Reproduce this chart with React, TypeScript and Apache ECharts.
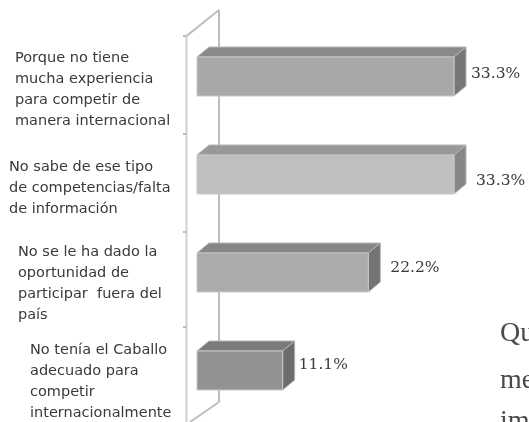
import React, { useEffect, useRef } from "react";
import * as echarts from "echarts";

const categories = [
  "Porque no tiene\nmucha experiencia\npara competir de\nmanera internacional",
  "No sabe de ese tipo\nde competencias/falta\nde información",
  "No se le ha dado la\noportunidad de\nparticipar  fuera del\npaís",
  "No tenía el Caballo\nadecuado para\ncompetir\ninternacionalmente",
];
const values = [33.3, 33.3, 22.2, 11.1];
const valueLabels = ["33.3%", "33.3%", "22.2%", "11.1%"];
const paragraphLines = ["Qu", "me", "im"];

const faceColors = ["#a8a8a8", "#bfbfbf", "#ababab", "#929292"];
const topColors = ["#8a8a8a", "#989898", "#868686", "#7a7a7a"];
const sideColors = ["#777777", "#868686", "#747474", "#6c6c6c"];
const labelDx = [17, 22, 22, 16];
const labelDy = [-3.5, 5.5, -6, -7];
const catX = [15, 9, 18, 30];
const catDy = [12, 12, 9.5, 9.5];

const DEPTH_X = 12;
const DEPTH_Y = 10;
const BAR_H = 39;
const WALL = "#bdbdbd";

export default function App() {
  const ref = useRef<HTMLDivElement>(null);
  useEffect(() => {
    const chart = echarts.init(ref.current!, undefined, { renderer: "svg" });
    const wallLine = (pts: number[][], stroke = WALL) => ({
      type: "polyline",
      z: 0,
      shape: { points: pts },
      style: { stroke, lineWidth: 2, fill: "none" },
    });
    chart.setOption({
      animation: false,
      backgroundColor: "#ffffff",
      grid: {
        left: 197,
        top: 27.5,
        width: 257,
        height: 392,
        containLabel: false,
        outerBoundsMode: "none",
      },
      xAxis: { type: "value", min: 0, max: 33.3, show: false },
      yAxis: {
        type: "category",
        inverse: true,
        data: categories,
        axisLine: { show: false },
        axisTick: { show: false },
        axisLabel: { show: false },
      },
      graphic: [
        wallLine([[186.5, 36], [186.5, 422]], "#cfcfcf"),
        wallLine([[219, 10], [219, 402]]),
        wallLine([[186.5, 36], [219, 10]]),
        wallLine([[219, 402], [190, 422]]),
        ...[36, 134, 232, 327].map((y) => wallLine([[183, y], [186.5, y]])),
        ...paragraphLines.map((t, i) => ({
          type: "text",
          z: 0,
          x: 500,
          y: [345, 392, 433][i],
          style: {
            text: t,
            fill: "#4a4a4a",
            font: "28px 'Liberation Serif', serif",
            verticalAlign: "bottom",
          },
        })),
      ],
      series: [
        {
          type: "custom",
          z: 2,
          clip: false,
          data: values.map((v, i) => [v, i]),
          encode: { x: 0, y: 1 },
          renderItem: (params: any, api: any) => {
            const i = params.dataIndex;
            const end = api.coord([api.value(0), api.value(1)]);
            const start = api.coord([0, api.value(1)]);
            const y0 = end[1] - BAR_H / 2;
            const y1 = end[1] + BAR_H / 2;
            return {
              type: "group",
              children: [
                {
                  type: "polygon",
                  shape: {
                    points: [
                      [start[0], y0],
                      [start[0] + DEPTH_X, y0 - DEPTH_Y],
                      [end[0] + DEPTH_X, y0 - DEPTH_Y],
                      [end[0], y0],
                    ],
                  },
                  style: { fill: topColors[i], stroke: "#b5b5b5", lineWidth: 1 },
                },
                {
                  type: "polygon",
                  shape: {
                    points: [
                      [end[0], y0],
                      [end[0] + DEPTH_X, y0 - DEPTH_Y],
                      [end[0] + DEPTH_X, y1 - DEPTH_Y],
                      [end[0], y1],
                    ],
                  },
                  style: { fill: sideColors[i], stroke: "#b5b5b5", lineWidth: 1 },
                },
                {
                  type: "rect",
                  shape: { x: start[0], y: y0, width: end[0] - start[0], height: BAR_H },
                  style: { fill: faceColors[i], stroke: "#c8c8c8", lineWidth: 1 },
                },
                {
                  type: "text",
                  x: end[0] + labelDx[i],
                  y: end[1] + labelDy[i],
                  style: {
                    text: valueLabels[i],
                    fill: "#3a3a3a",
                    font: "15.5px 'DejaVu Serif', serif",
                    verticalAlign: "middle",
                    align: "left",
                  },
                },
                {
                  type: "text",
                  x: catX[i],
                  y: end[1] + catDy[i],
                  style: {
                    text: categories[i],
                    fill: "#3a3a3a",
                    font: "14.5px 'DejaVu Sans', sans-serif",
                    lineHeight: 21,
                    verticalAlign: "middle",
                    align: "left",
                  },
                },
              ],
            };
          },
        },
      ],
    });
    return () => chart.dispose();
  }, []);
  return (
    <div
      ref={ref}
      style={{
        position: "fixed",
        left: 0,
        top: 0,
        width: 529,
        height: 422,
        filter: "blur(0.5px)",
      }}
    />
  );
}
